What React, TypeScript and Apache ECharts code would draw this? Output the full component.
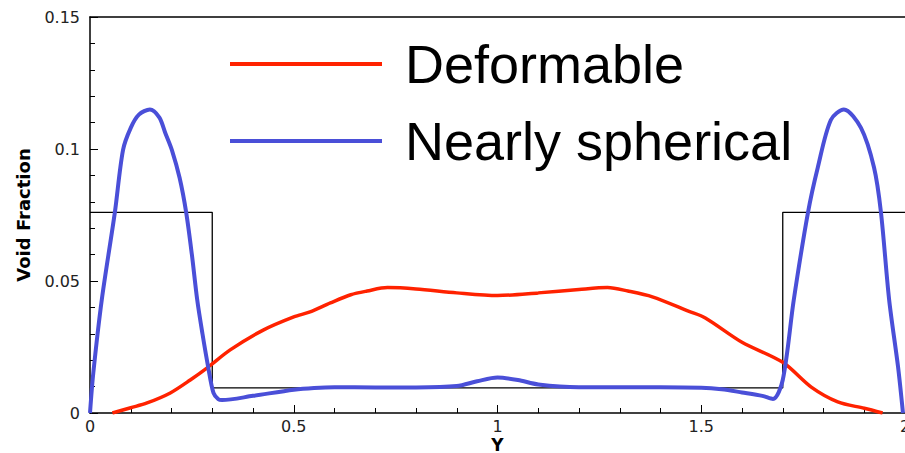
import React, { useEffect, useRef } from "react";
import * as echarts from "echarts";

const xTicks = [0, 0.5, 1, 1.5, 2];
const yTicks = [0, 0.05, 0.1, 0.15];

const deformableX = [0.055, 0.1, 0.14, 0.197, 0.246, 0.29, 0.344, 0.425, 0.5, 0.54, 0.59, 0.64, 0.68, 0.73, 0.8, 0.9, 1.0, 1.1, 1.2, 1.27, 1.32, 1.38, 1.47, 1.51, 1.6, 1.7, 1.77, 1.835, 1.9, 1.945];
const deformableY = [0, 0.002, 0.0038, 0.0076, 0.0125, 0.0174, 0.0239, 0.0314, 0.0364, 0.0383, 0.0417, 0.0448, 0.0462, 0.0475, 0.047, 0.0455, 0.0445, 0.0455, 0.0468, 0.0475, 0.0462, 0.044, 0.0385, 0.036, 0.0268, 0.0192, 0.0098, 0.0042, 0.0018, 0];

const sphericalX = [0, 0.008, 0.029, 0.061, 0.081, 0.1, 0.12, 0.147, 0.17, 0.185, 0.201, 0.22, 0.236, 0.25, 0.263, 0.276, 0.29, 0.303, 0.315, 0.324, 0.4, 0.5, 0.55, 0.6, 0.7, 0.8, 0.9, 0.95, 1.0, 1.05, 1.1, 1.2, 1.3, 1.4, 1.5, 1.55, 1.6, 1.65, 1.676, 1.7, 1.727, 1.762, 1.786, 1.818, 1.85, 1.892, 1.924, 1.941, 1.961, 1.983, 1.995];
const sphericalY = [0, 0.015, 0.043, 0.076, 0.0996, 0.108, 0.113, 0.115, 0.112, 0.106, 0.0996, 0.089, 0.076, 0.06, 0.043, 0.03, 0.0174, 0.0076, 0.0052, 0.0049, 0.0065, 0.0088, 0.0095, 0.0098, 0.0097, 0.0097, 0.0102, 0.012, 0.0134, 0.0125, 0.0108, 0.0098, 0.0098, 0.0098, 0.0096, 0.009, 0.0078, 0.0065, 0.0053, 0.0125, 0.0428, 0.076, 0.093, 0.111, 0.115, 0.108, 0.093, 0.076, 0.043, 0.0174, 0];

const stepX = [0, 0.3, 0.3, 1.7, 1.7, 2];
const stepY = [0.076, 0.076, 0.0095, 0.0095, 0.076, 0.076];

const zip = (xs: number[], ys: number[]) => xs.map((x, i) => [x, ys[i]]);

export default function App() {
  const ref = useRef<HTMLDivElement>(null);
  useEffect(() => {
    if (!ref.current) return;
    const chart = echarts.init(ref.current, null, { renderer: "svg" });
    const font = "Liberation Sans, Arial, Helvetica, sans-serif";
    const tickFont = "DejaVu Sans, sans-serif";
    chart.setOption({
      animation: false,
      backgroundColor: "#ffffff",
      textStyle: { fontFamily: font },
      grid: { left: 90, right: 0, top: 17, bottom: 40, outerBoundsMode: "none", containLabel: false },
      legend: {
        data: ["Deformable", "Nearly spherical"],
        orient: "vertical",
        left: 230,
        top: 36,
        padding: 0,
        itemWidth: 152,
        itemHeight: 4,
        itemGap: 21,
        icon: "rect",
        textStyle: { fontSize: 54, color: "#000", fontFamily: font, padding: [0, 0, 0, 18], lineHeight: 56 },
      },
      xAxis: [
        {
          type: "value",
          min: xTicks[0],
          max: xTicks[xTicks.length - 1],
          interval: 0.5,
          name: "Y",
          nameLocation: "middle",
          nameGap: 32,
          nameMoveOverlap: false,
          nameTextStyle: { fontSize: 17, fontWeight: "bold", color: "#000", fontFamily: tickFont, lineHeight: 16, verticalAlign: "middle" },
          axisLine: { lineStyle: { color: "#000", width: 1.5 } },
          axisTick: { inside: true, length: 8, lineStyle: { color: "#000" } },
          minorTick: { show: true, splitNumber: 5, length: 5, lineStyle: { color: "#000" } },
          axisLabel: { fontSize: 16, color: "#222", margin: 5, fontFamily: tickFont, formatter: (v: number) => String(v) },
          splitLine: { show: false },
        },
        {
          type: "value",
          position: "top",
          min: 0,
          max: 2,
          axisLine: { show: true, onZero: false, lineStyle: { color: "#000", width: 1.5 } },
          axisTick: { show: false },
          axisLabel: { show: false },
          splitLine: { show: false },
        },
      ],
      yAxis: {
        type: "value",
        min: yTicks[0],
        max: yTicks[yTicks.length - 1],
        interval: 0.05,
        name: "Void Fraction",
        nameLocation: "middle",
        nameRotate: 90,
        nameGap: 58,
        nameTextStyle: { fontSize: 18, fontWeight: "bold", color: "#000", fontFamily: tickFont },
        axisLine: { show: true, lineStyle: { color: "#000", width: 1.5 } },
        axisTick: { show: true, inside: true, length: 8, lineStyle: { color: "#000" } },
        minorTick: { show: true, splitNumber: 5, length: 5, lineStyle: { color: "#000" } },
        axisLabel: { fontSize: 16, color: "#222", margin: 10, fontFamily: tickFont, formatter: (v: number) => String(v) },
        splitLine: { show: false },
      },
      series: [
        {
          name: "Step",
          type: "line",
          data: zip(stepX, stepY),
          showSymbol: false,
          lineStyle: { color: "#000", width: 1.3 },
          itemStyle: { color: "#000" },
          z: 1,
        },
        {
          name: "Deformable",
          type: "line",
          data: zip(deformableX, deformableY),
          smooth: 0.3,
          showSymbol: false,
          lineStyle: { color: "#ff2200", width: 3.5 },
          itemStyle: { color: "#ff2200" },
          z: 3,
        },
        {
          name: "Nearly spherical",
          type: "line",
          data: zip(sphericalX, sphericalY),
          smooth: 0.3,
          showSymbol: false,
          lineStyle: { color: "#4a4fd8", width: 4 },
          itemStyle: { color: "#4a4fd8" },
          z: 4,
        },
      ],
    });
    return () => chart.dispose();
  }, []);
  return (
    <div
      ref={ref}
      style={{ position: "fixed", left: 0, top: 0, width: 905, height: 453, background: "#fff" }}
    />
  );
}
